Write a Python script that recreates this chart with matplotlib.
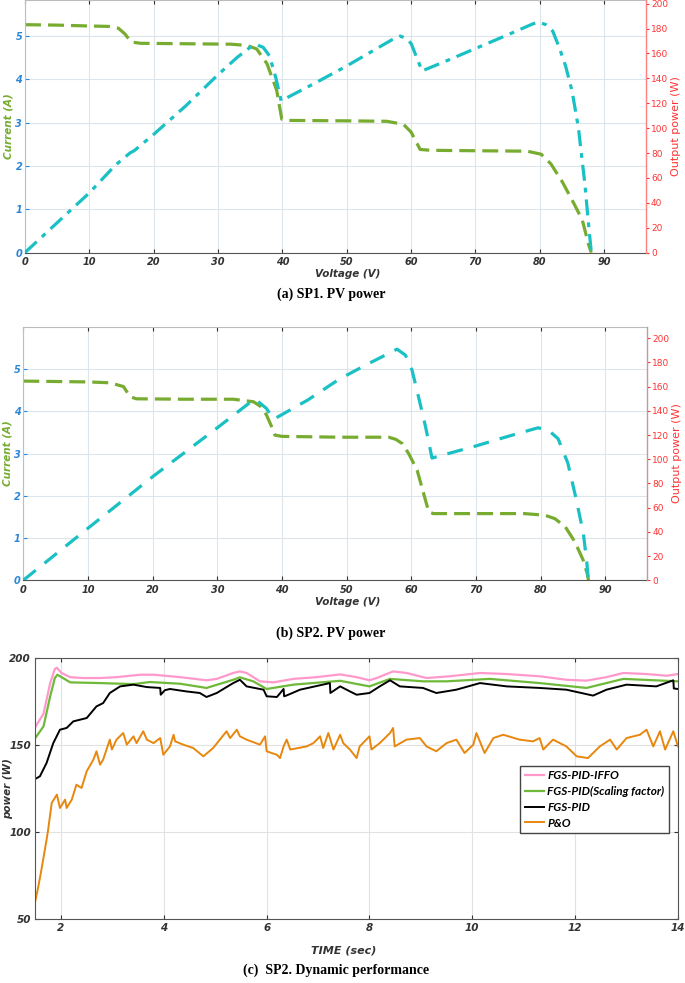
import numpy as np
import matplotlib
matplotlib.use("Agg")
import matplotlib.pyplot as plt

# ---- (a) SP1 PV curves ----
v1_cur = [0, 5, 10, 13, 14.5, 15.5, 16.5, 18, 25, 32, 34.5, 36, 37.6, 39.1, 39.9, 41, 50, 56.2, 58.8, 60, 61.4, 63, 70, 78, 80.2, 81.7, 83.5, 85.3, 86.6, 87.6, 88]
i1 = [5.26, 5.25, 5.23, 5.22, 5.18, 5.05, 4.86, 4.83, 4.82, 4.81, 4.78, 4.70, 4.36, 3.75, 3.08, 3.05, 3.04, 3.03, 2.96, 2.78, 2.38, 2.36, 2.35, 2.34, 2.27, 2.05, 1.63, 1.13, 0.75, 0.17, 0.0]
v1_pow = [0, 5, 10, 14, 16.3, 17, 20, 25, 30, 33, 35, 36, 37, 38, 39, 39.8, 45, 50, 55, 57, 58.3, 59.3, 60, 61, 61.7, 65, 70, 75, 79, 80, 81, 82, 83, 84, 85, 86, 87, 87.6, 88]
p1 = [0, 24, 48, 70, 80, 82, 95, 118, 143, 157, 165, 167, 165, 158, 140, 122, 136, 150, 165, 171, 174, 172, 168, 155, 146, 153, 164, 175, 184, 185, 183, 178, 165, 150, 130, 100, 55, 21, 0]

# ---- (b) SP2 PV curves ----
v2_cur = [0, 5, 10, 13.4, 15.5, 16.5, 17.5, 25, 32.5, 35.6, 36.6, 37.6, 38.4, 38.9, 40, 48.9, 56.5, 57.6, 58.6, 59.6, 60.9, 61.9, 62.7, 63.4, 70, 77.5, 80.7, 82.2, 83.8, 85.3, 86.6, 87.2, 87.4]
i2 = [4.72, 4.71, 4.70, 4.68, 4.59, 4.35, 4.30, 4.29, 4.29, 4.23, 4.13, 3.92, 3.64, 3.44, 3.41, 3.39, 3.39, 3.34, 3.24, 3.00, 2.61, 2.06, 1.62, 1.58, 1.58, 1.58, 1.54, 1.46, 1.27, 0.91, 0.47, 0.16, 0.0]
v2_pow = [0, 10, 20.1, 30, 35.8, 37.6, 38.7, 44, 48.8, 53, 57.8, 59.1, 60.1, 61.1, 62.2, 63.2, 70, 75, 79.6, 81.2, 82.7, 84.2, 85.5, 86.6, 87.1, 87.4]
p2 = [0, 43, 86, 126, 150, 142, 133, 149, 166, 178, 191, 186, 174, 152, 127, 101, 111, 119, 126, 124, 117, 97, 67, 39, 17, 0]

# ---- (c) SP2 dynamic performance ----
t_iffo = [1.50, 1.66, 1.79, 1.88, 1.92, 2.01, 2.18, 2.43, 2.76, 3.08, 3.54, 3.80, 4.32, 4.83, 5.03, 5.35, 5.48, 5.61, 5.87, 6.13, 6.52, 6.97, 7.43,
          7.75, 8.00, 8.14, 8.46, 8.72, 9.11, 9.56, 10.15, 10.67, 11.31, 11.83, 12.22, 12.61, 12.94, 13.39, 13.78, 14.0]
p_iffo = [160.3, 168, 185.6, 193.7, 194.4, 191.4, 189, 188.5, 188.5, 189, 190.4, 190.4, 189, 187.2, 188, 191.4, 192.3, 191.4, 186.6, 186, 188, 189, 190.6,
          189, 187.2, 188.5, 192.3, 191.4, 188.5, 189.5, 191.4, 190.8, 189.5, 187.5, 187, 189, 191.4, 190.8, 189.8, 190.8]

t_sf = [1.50, 1.66, 1.79, 1.88, 1.93, 2.01, 2.18, 2.76, 3.41, 3.73, 4.32, 4.83, 5.35, 5.48, 5.74, 6.00, 6.52, 7.43,
        8.00, 8.40, 9.04, 9.50, 10.34, 11.31, 12.22, 12.94, 14.0]
p_sf = [154, 160.7, 178, 188.5, 190.4, 189, 186, 185.6, 185, 186.2, 185.2, 182.8, 187.5, 188.9, 186.6, 182.2, 184.7, 186.9,
        183.7, 188, 186.6, 186.6, 188, 185.6, 182.8, 188, 186.6]

t_pid = [1.50, 1.59, 1.72, 1.85, 1.98, 2.11, 2.24, 2.50, 2.69, 2.82, 2.95, 3.15, 3.41, 3.67, 3.93, 3.94, 4.02, 4.12, 4.44, 4.70, 4.83, 5.03, 5.35, 5.48, 5.61,
         5.94, 6.00, 6.20, 6.33, 6.34, 6.39, 6.65, 7.23, 7.24, 7.43, 7.62, 7.75, 8.00, 8.20, 8.40, 8.59, 9.04, 9.30, 9.69, 10.15, 10.67, 11.31, 11.83,
         12.35, 12.61, 13.00, 13.58, 13.91, 13.92, 14.0]
p_pid = [130.5, 132, 139.7, 151.1, 158.8, 159.8, 163.6, 165.5, 172.2, 174.1, 179.9, 183.7, 184.7, 183.3, 182.8, 178.9, 181.5, 182.2, 180.8, 179.9, 177.6, 179.9, 185.6, 187.5, 183.7,
         181.8, 178, 177.6, 182.2, 178, 178.5, 181.8, 185.6, 179.9, 183.7, 180.8, 178.9, 179.9, 183.7, 187.2, 183.7, 182.8, 179.9, 181.8, 185.6, 183.7, 182.8, 181.8,
         178.4, 181.8, 184.7, 183.7, 187.2, 182.5, 182.2]

t_po = [1.50, 1.56, 1.62, 1.72, 1.75, 1.82, 1.92, 1.98, 2.08, 2.11, 2.21, 2.30, 2.40, 2.50, 2.63, 2.69, 2.76, 2.82, 2.95, 2.99, 3.08, 3.21, 3.28, 3.41,
        3.47, 3.60, 3.67, 3.80, 3.93, 3.99, 4.12, 4.19, 4.22, 4.38, 4.57, 4.77, 4.96, 5.09, 5.22, 5.29, 5.42, 5.48, 5.61, 5.87, 5.97, 6.00, 6.20, 6.26,
        6.33, 6.39, 6.46, 6.78, 6.91, 7.04, 7.10, 7.20, 7.30, 7.43, 7.49, 7.62, 7.75, 7.81, 8.00, 8.04, 8.20, 8.40, 8.46, 8.49, 8.72, 8.98, 9.11,
        9.30, 9.50, 9.69, 9.85, 10.02, 10.08, 10.24, 10.41, 10.60, 10.92, 11.18, 11.31, 11.38, 11.57, 11.83, 12.03, 12.25, 12.48, 12.68, 12.81,
        13.00, 13.26, 13.39, 13.52, 13.65, 13.75, 13.91, 14.0]
p_po = [60.2, 68.8, 78.4, 95.6, 101.3, 116.7, 121.5, 113.8, 118.6, 113.8, 118.6, 127.2, 125.3, 134.9, 141.6, 146.4, 138.7, 141.6, 153.1, 147.4, 153.1, 156.9, 150.2, 155,
        151.1, 157.9, 153.1, 151.1, 154, 144.4, 149.2, 155.9, 152.1, 150.2, 148.3, 143.5, 148.3, 153.1, 157.9, 154, 158.8, 155, 153.1, 150.2, 155, 146.4, 144.4, 142.5,
        149.2, 153.1, 147.4, 149.2, 151.1, 155, 148.3, 156.9, 147.4, 155.9, 151.1, 147.4, 142.5, 149.2, 155, 147.4, 151.1, 156.9, 159.8, 149.2, 153.1, 154, 149.2,
        146.4, 151.1, 153.1, 145.4, 150.2, 156.9, 145.4, 154, 155.9, 153.1, 152.1, 154, 147.4, 153.1, 149.2, 143.5, 142.5, 149.2, 153.1, 147.4,
        154, 155.9, 158.8, 149.2, 157.9, 147.4, 157.9, 149.2]

GREEN = "#77ac30"
CYAN = "#19c0c4"
RED = "#ff3333"
BLUE = "#2e86d6"
GRID = "#dde5ec"
DARK = "#333333"

fig = plt.figure(figsize=(6.85, 9.83), dpi=100)


def pv_panel(rect, v_cur, cur, v_pow, pow_, cur_lim, pow_lim, pow_style, lab_x_left, lab_x_right):
    ax = fig.add_axes(rect)
    ax.plot(v_cur, cur, color=GREEN, lw=2.3, dashes=(5, 2.2))
    ax.set_xlim(0, 96.5)
    ax.set_ylim(0, cur_lim)
    ax.set_xticks(range(0, 100, 10))
    ax.set_yticks(range(0, 6))
    ax.grid(True, color=GRID, lw=0.8)
    ax.tick_params(axis="x", direction="in", length=3, colors=DARK, labelsize=7, top=True)
    ax.tick_params(axis="y", direction="in", length=3, colors=BLUE, labelsize=7, right=True, pad=2)
    for lab in ax.get_xticklabels() + ax.get_yticklabels():
        lab.set_fontweight("bold")
        lab.set_fontstyle("italic")
    ax.spines["left"].set_color("#9cc7ea")
    ax.spines["bottom"].set_color("#555555")
    ax.spines["top"].set_color("#bbbbbb")
    ax.set_xlabel("Voltage (V)", fontsize=7.5, fontweight="bold", fontstyle="italic", color=DARK)
    ax.xaxis.set_label_coords(0.52, -0.065)
    ax.set_ylabel("Current (A)", fontsize=7.5, fontweight="bold", fontstyle="italic", color=GREEN)
    ax.yaxis.set_label_coords(lab_x_left, 0.5)

    ax2 = ax.twinx()
    if pow_style == "dashdot":
        ax2.plot(v_pow, pow_, color=CYAN, lw=2.3, dashes=(5, 2.2, 1.5, 2.2))
    else:
        ax2.plot(v_pow, pow_, color=CYAN, lw=2.3, dashes=(5, 3.5))
    ax2.set_ylim(0, pow_lim)
    ax2.set_yticks(range(0, 201, 20))
    ax2.tick_params(axis="y", direction="out", length=2.5, colors=RED, labelsize=6.5, pad=1)
    ax2.spines["right"].set_color("#ff8080")
    ax2.spines["left"].set_visible(False)
    ax2.spines["top"].set_visible(False)
    ax2.spines["bottom"].set_visible(False)
    ax2.set_ylabel("Output power (W)", fontsize=8, color=RED)
    ax2.yaxis.set_label_coords(lab_x_right, 0.5)
    return ax


pv_panel([0.0365, 0.7431, 0.9066, 0.2569], v1_cur, i1, v1_pow, p1, 5.83, 203, "dashdot", -0.019, 1.041)
pv_panel([0.034, 0.4097, 0.911, 0.258], v2_cur, i2, v2_pow, p2, 6.01, 209.6, "dashed", -0.018, 1.039)

ax3 = fig.add_axes([0.0515, 0.0651, 0.9382, 0.2655])
ax3.plot(t_iffo, p_iffo, color="#ff99cc", lw=1.6, label="FGS-PID-IFFO")
ax3.plot(t_sf, p_sf, color="#6fb93a", lw=1.6, label="FGS-PID(Scaling factor)")
ax3.plot(t_pid, p_pid, color="black", lw=1.4, label="FGS-PID")
ax3.plot(t_po, p_po, color="#e8870e", lw=1.4, label="P&O")
ax3.set_xlim(1.5, 14)
ax3.set_ylim(50, 200)
ax3.set_xticks(range(2, 15, 2))
ax3.set_yticks(range(50, 201, 50))
ax3.grid(True, color="#e2e2e2", lw=0.8)
ax3.tick_params(direction="in", length=3, colors=DARK, labelsize=7.5, top=True, right=True, pad=3)
for lab in ax3.get_xticklabels() + ax3.get_yticklabels():
    lab.set_fontweight("bold")
    lab.set_fontstyle("italic")
for s in ax3.spines.values():
    s.set_color("#555555")
ax3.set_xlabel("TIME (sec)", fontsize=8, fontweight="bold", fontstyle="italic", color=DARK)
ax3.xaxis.set_label_coords(0.48, -0.1)
ax3.set_ylabel("power (W)", fontsize=7.5, fontweight="bold", fontstyle="italic", color=DARK)
ax3.yaxis.set_label_coords(-0.035, 0.5)
leg = ax3.legend(loc="upper left", bbox_to_anchor=(0.745, 0.61), fancybox=False, framealpha=1,
                 edgecolor="#444444", handlelength=1.6, handletextpad=0.3, borderpad=0.4,
                 labelspacing=0.4, prop={"family": "Lato", "weight": "bold", "style": "italic", "size": 8.5})

cap = dict(ha="center", va="center", fontsize=10, fontweight="bold", family="Liberation Serif")
fig.text(0.483, 1 - 294 / 983, "(a) SP1. PV power", **cap)
fig.text(0.483, 1 - 633 / 983, "(b) SP2. PV power", **cap)
fig.text(0.49, 1 - 970 / 983, "(c)  SP2. Dynamic performance", **cap)

fig.savefig("out.png", dpi=100)
